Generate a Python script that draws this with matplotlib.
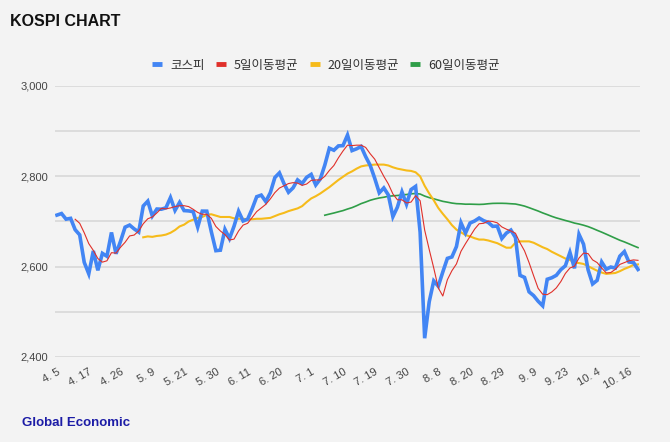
import numpy as np
import matplotlib
matplotlib.use("Agg")
import matplotlib.pyplot as plt
from matplotlib.lines import Line2D

# KOSPI closes, 2024-04-05 .. 2024-10-18 (trading days)
kospi = [
    2714.21, 2717.65, 2705.16, 2706.96, 2681.82, 2670.43, 2609.63, 2584.18, 2634.70, 2591.86,
    2629.44, 2623.02, 2675.75, 2628.62, 2656.33, 2687.44, 2692.06, 2683.65, 2676.63, 2734.36,
    2745.05, 2712.14, 2727.63, 2727.21, 2730.34, 2753.00, 2724.62, 2742.14, 2724.18, 2723.46,
    2721.81, 2687.60, 2722.99, 2722.85, 2677.30, 2635.44, 2636.52, 2682.52, 2662.10, 2689.50,
    2722.67, 2701.17, 2705.12, 2728.17, 2754.89, 2758.42, 2744.10, 2763.92, 2797.33, 2807.63,
    2784.06, 2764.73, 2774.39, 2792.05, 2784.06, 2797.82, 2804.31, 2780.86, 2794.01, 2824.94,
    2862.23, 2857.76, 2867.38, 2867.99, 2891.35, 2857.00, 2860.92, 2866.09, 2843.69, 2824.35,
    2795.46, 2763.51, 2774.32, 2758.71, 2710.65, 2731.90, 2765.52, 2738.19, 2770.69, 2777.68,
    2676.19, 2441.55, 2522.15, 2568.41, 2556.73, 2588.43, 2618.30, 2621.50, 2644.50, 2697.23,
    2674.36, 2696.63, 2701.13, 2707.67, 2701.69, 2698.01, 2689.25, 2689.83, 2662.28, 2674.31,
    2681.00, 2664.63, 2580.80, 2576.20, 2544.28, 2535.93, 2523.43, 2513.37, 2572.09, 2575.41,
    2580.80, 2593.37, 2602.01, 2631.68, 2596.32, 2671.57, 2649.78, 2593.27, 2561.69, 2569.71,
    2610.38, 2594.36, 2599.16, 2596.91, 2623.27, 2633.45, 2610.36, 2609.30, 2593.82,
]

# 5-day moving average, starts at the 5th trading day
ma5 = [
    2705, 2696, 2675, 2651, 2636, 2618, 2610, 2613, 2631, 2630,
    2643, 2654, 2668, 2670, 2679, 2695, 2706, 2710, 2719, 2729,
    2728, 2730, 2733, 2735, 2735, 2733, 2727, 2720, 2716, 2716,
    2707, 2689, 2679, 2671, 2659, 2661, 2679, 2692, 2696, 2709,
    2722, 2730, 2738, 2750, 2764, 2774, 2779, 2784, 2786, 2785,
    2780, 2783, 2791, 2792, 2792, 2800, 2813, 2824, 2841, 2856,
    2869, 2868, 2869, 2869, 2864, 2850, 2838, 2819, 2800, 2783,
    2761, 2748, 2748, 2741, 2743, 2757, 2746, 2681, 2638, 2597,
    2553, 2535, 2571, 2591, 2606, 2634, 2651, 2667, 2683, 2695,
    2696, 2701, 2700, 2697, 2688, 2683, 2679, 2674, 2653, 2635,
    2609, 2580, 2552, 2539, 2538, 2544, 2553, 2567, 2585, 2597,
    2601, 2619, 2630, 2629, 2615, 2609, 2597, 2586, 2587, 2594,
    2605, 2609, 2613, 2615, 2614,
]

# 20-day moving average, starts at the 20th trading day
ma20 = [
    2665, 2667, 2666, 2668, 2669, 2671, 2675, 2681, 2689, 2693,
    2700, 2704, 2708, 2710, 2715, 2716, 2713, 2710, 2710, 2710,
    2707, 2706, 2706, 2705, 2705, 2706, 2706, 2707, 2708, 2712,
    2716, 2719, 2723, 2726, 2729, 2734, 2743, 2751, 2756, 2762,
    2769, 2776, 2784, 2792, 2799, 2806, 2811, 2817, 2822, 2824,
    2825, 2826, 2826, 2826, 2824, 2820, 2817, 2815, 2813, 2812,
    2809, 2800, 2779, 2762, 2747, 2730, 2717, 2705, 2692, 2682,
    2676, 2670, 2667, 2663, 2660, 2660, 2658, 2655, 2652, 2647,
    2642, 2642, 2653, 2656, 2656, 2656, 2653, 2648, 2643, 2639,
    2633, 2628, 2623, 2618, 2615, 2609, 2608, 2606, 2601, 2596,
    2591, 2587, 2584, 2585, 2586, 2590, 2595, 2599, 2604, 2605,
]

# 60-day moving average, starts at the 60th trading day
ma60 = [
    2713.9, 2716.4, 2718.8, 2721.5, 2724.1, 2727.6, 2730.7, 2734.9, 2739.6, 2743.1,
    2747.0, 2749.8, 2752.1, 2753.7, 2755.9, 2756.8, 2757.6, 2758.8, 2759.7, 2761.3,
    2762.0, 2760.8, 2756.3, 2752.9, 2750.2, 2747.4, 2744.6, 2742.8, 2740.8, 2739.5,
    2739.1, 2738.3, 2738.4, 2738.1, 2737.8, 2738.2, 2739.3, 2740.1, 2740.3, 2740.3,
    2740.0, 2739.3, 2738.7, 2736.6, 2734.1, 2730.6, 2726.9, 2723.2, 2719.0, 2715.3,
    2711.4, 2708.0, 2705.2, 2702.3, 2699.6, 2696.5, 2694.4, 2691.8, 2688.7, 2684.8,
    2680.5, 2676.4, 2672.0, 2667.5, 2663.0, 2658.5, 2654.8, 2650.6, 2646.3, 2642.2,
]

tick_idx = [0, 7, 14, 21, 28, 35, 42, 49, 56, 63, 70, 77, 84, 91, 98, 105, 112, 119, 126]
tick_labels = ["4. 5", "4. 17", "4. 26", "5. 9", "5. 21", "5. 30", "6. 11", "6. 20", "7. 1",
               "7. 10", "7. 19", "7. 30", "8. 8", "8. 20", "8. 29", "9. 9", "9. 23", "10. 4", "10. 16"]

names = ["코스피", "5일이동평균", "20일이동평균", "60일이동평균"]
colors = ["#4285f4", "#e0302a", "#f6bb1a", "#2f9e48"]

bg = "#f3f3f3"
plt.rcParams['font.family'] = ['Liberation Sans', 'Noto Sans CJK KR', 'DejaVu Sans']

fig = plt.figure(figsize=(6.70, 4.42), dpi=100, facecolor=bg)
ax = fig.add_axes([55/670, 1-357/442, 585/670, 271/442], facecolor=bg)

n = len(kospi)
x = np.arange(n)
ax.plot(np.arange(n - len(ma60), n), ma60, color=colors[3], lw=1.2, zorder=3)
ax.plot(np.arange(n - len(ma20), n), ma20, color=colors[2], lw=1.5, zorder=3)
ax.plot(x, kospi, color=colors[0], lw=2.6, zorder=4, solid_joinstyle='miter')
ax.plot(np.arange(n - len(ma5), n), ma5, color=colors[1], lw=0.8, zorder=5)

ax.set_ylim(2400, 3000)
ax.set_xlim(-0.44, 128.44)
ax.set_yticks([2400, 2600, 2800, 3000])
ax.set_yticklabels(["2,400", "2,600", "2,800", "3,000"])
ax.set_yticks([2500, 2700, 2900], minor=True)
ax.grid(True, which='both', axis='y', color='#d6d6d6', lw=1.1)
ax.set_axisbelow(True)
ax.tick_params(axis='y', which='both', length=0, pad=5, labelsize=8, labelcolor='#444444')

ax.set_xticks(tick_idx)
ax.set_xticklabels(tick_labels, rotation=30, ha='right', va='top', rotation_mode='anchor')
ax.tick_params(axis='x', length=0, pad=7, labelsize=8, labelcolor='#444444')
for sp in ax.spines.values():
    sp.set_visible(False)

fig.text(10/670, 1-21/442, "KOSPI CHART", fontsize=11.5, fontweight='bold', color='#111111', va='center')
fig.text(22/670, 1-423/442, "Global Economic", fontsize=9.5, fontweight='bold', color='#1c1ca6', va='center')

handles = [Line2D([], [], color=c, lw=3.5, solid_capstyle='butt') for c in colors]
fig.legend(handles, names, loc='center', bbox_to_anchor=(326/670, 1-65/442), ncol=4,
           frameon=False, handlelength=0.8, handletextpad=0.64, columnspacing=0.9,
           labelcolor='#333333', prop={'family': ['Noto Sans CJK KR'], 'size': 9})

fig.savefig("out.png", dpi=100, facecolor=bg)
